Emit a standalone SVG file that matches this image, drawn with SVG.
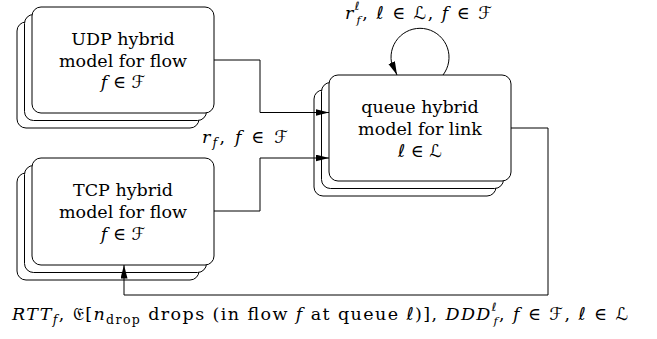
<svg xmlns="http://www.w3.org/2000/svg" width="657" height="339" viewBox="0 0 657 339">
  <style>
    .box { fill: #fff; stroke: #000; stroke-width: 1; }
    .wire { fill: none; stroke: #000; stroke-width: 1; }
    .t { font-family: "DejaVu Serif", "DejaVu Sans", serif; font-size: 17.5px; fill: #000; text-anchor: middle; }
    .m { font-family: "DejaVu Serif", "DejaVu Sans", serif; font-size: 17.5px; fill: #000; }
    .i { font-style: italic; }
    .s { font-size: 12.5px; }
    .ss { font-size: 11.5px; }
    .sym { font-family: "DejaVu Sans", serif; font-style: normal; }
  </style>
  <defs>
    <marker id="arrow" markerUnits="userSpaceOnUse" markerWidth="14" markerHeight="8" refX="13.5" refY="3.5" orient="auto">
      <path d="M0,0 L13.5,3.5 L0,7 z" fill="#000"/>
    </marker>
  </defs>

  <!-- UDP flow model (stack of three) -->
  <g id="udp">
    <rect class="box" x="17" y="22" width="182" height="106" rx="9"/>
    <rect class="box" x="24.5" y="14.5" width="182" height="106" rx="9"/>
    <rect class="box" x="32" y="7" width="182" height="106" rx="9"/>
    <text class="t" x="123" y="44.5">UDP hybrid</text>
    <text class="t" x="123" y="66.5">model for flow</text>
    <text class="t" x="123" y="88"><tspan class="i">f</tspan> ∈ <tspan class="sym">ℱ</tspan></text>
  </g>

  <!-- TCP flow model (stack of three) -->
  <g id="tcp">
    <rect class="box" x="17" y="173" width="182" height="107" rx="9"/>
    <rect class="box" x="24.5" y="165.5" width="182" height="107" rx="9"/>
    <rect class="box" x="32" y="158" width="182" height="107" rx="9"/>
    <text class="t" x="123" y="196">TCP hybrid</text>
    <text class="t" x="123" y="218">model for flow</text>
    <text class="t" x="123" y="239.5"><tspan class="i">f</tspan> ∈ <tspan class="sym">ℱ</tspan></text>
  </g>

  <!-- queue model per link (stack of three) -->
  <g id="queue">
    <rect class="box" x="314" y="90" width="182" height="106" rx="9"/>
    <rect class="box" x="321.5" y="82.5" width="182" height="106" rx="9"/>
    <rect class="box" x="329" y="75" width="182" height="106" rx="9"/>
    <text class="t" x="420" y="113">queue hybrid</text>
    <text class="t" x="420" y="135">model for link</text>
    <text class="t" x="420" y="156.5"><tspan class="i">ℓ</tspan> ∈ <tspan class="sym">ℒ</tspan></text>
  </g>

  <!-- connectors -->
  <g id="connectors">
    <path class="wire" d="M214,60 H260 V112.5 H329" marker-end="url(#arrow)"/>
    <path class="wire" d="M214,211 H260 V158 H329" marker-end="url(#arrow)"/>
    <path class="wire" d="M511,128 H548 V295 H124 V265" marker-end="url(#arrow)"/>
    <path class="wire" d="M443,75 A29,29 0 1 0 391.4,62 L397,75" marker-end="url(#arrow)"/>
  </g>

  <!-- labels -->
  <g id="labels">
    <text class="m" x="345" y="18.5" textLength="147" lengthAdjust="spacing"><tspan class="i">r</tspan><tspan class="i ss" dy="-8.5">ℓ</tspan><tspan class="i ss" dx="-4.5" dy="14">f</tspan><tspan dy="-5.5">, </tspan><tspan class="i">ℓ</tspan> ∈ <tspan class="sym">ℒ</tspan>, <tspan class="i">f</tspan> ∈ <tspan class="sym">ℱ</tspan></text>

    <text class="m" x="202" y="142.5" textLength="86" lengthAdjust="spacing"><tspan class="i">r</tspan><tspan class="i s" dy="4">f</tspan><tspan dy="-4">, </tspan><tspan class="i">f</tspan> ∈ <tspan class="sym">ℱ</tspan></text>

    <text class="m" x="12" y="320" textLength="616" lengthAdjust="spacing"><tspan class="i">RTT</tspan><tspan class="i s" dy="4">f</tspan><tspan dy="-4">, </tspan><tspan class="sym">𝔈</tspan>[<tspan class="i">n</tspan><tspan class="s" dy="4">drop</tspan><tspan dy="-4"> drops (in flow </tspan><tspan class="i">f</tspan> at queue <tspan class="i">ℓ</tspan>)], <tspan class="i">DDD</tspan><tspan class="i ss" dy="-9">ℓ</tspan><tspan class="i ss" dx="-4.5" dy="14">f</tspan><tspan dy="-5">, </tspan><tspan class="i">f</tspan> ∈ <tspan class="sym">ℱ</tspan>, <tspan class="i">ℓ</tspan> ∈ <tspan class="sym">ℒ</tspan></text>
  </g>
</svg>
